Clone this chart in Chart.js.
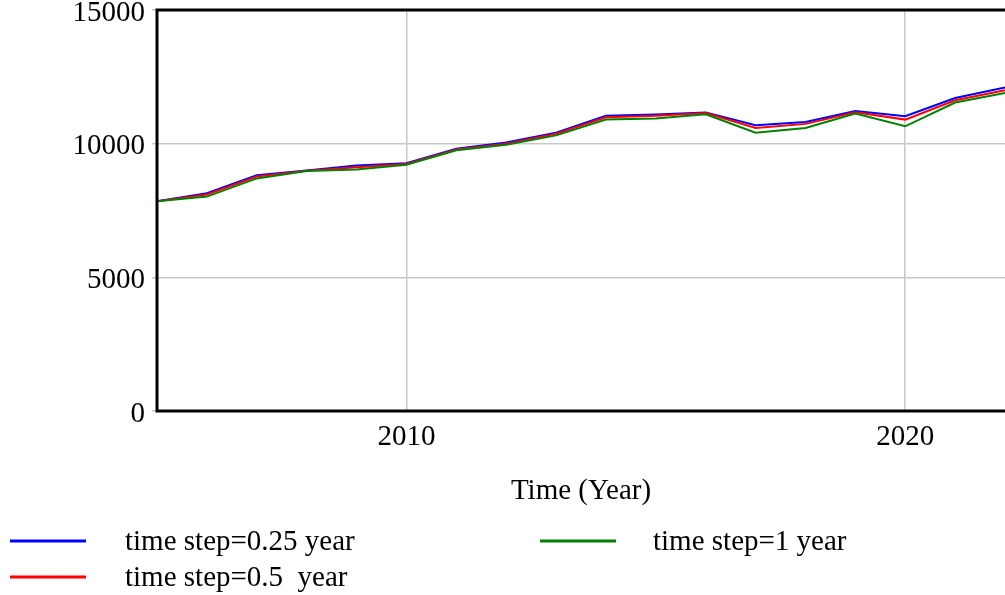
<!DOCTYPE html>
<html>
<head>
<meta charset="utf-8">
<script src="https://cdn.jsdelivr.net/npm/chart.js@4/dist/chart.umd.min.js"></script>
<style>
  html, body { margin: 0; padding: 0; background: #fff; overflow: hidden; }
  #wrap { width: 1005px; height: 595px; }
</style>
</head>
<body>
<div id="wrap"><canvas id="chart" width="1005" height="595"></canvas></div>
<script>
const years = [2005, 2006, 2007, 2008, 2009, 2010, 2011, 2012, 2013, 2014, 2015, 2016, 2017, 2018, 2019, 2020, 2021, 2022];
const step025 = [7850, 8150, 8820, 9000, 9180, 9270, 9810, 10040, 10410, 11040, 11090, 11170, 10690, 10810, 11225, 11025, 11710, 12100];
const step05  = [7850, 8100, 8770, 8990, 9120, 9240, 9780, 10000, 10370, 10990, 11040, 11150, 10590, 10740, 11175, 10900, 11625, 12000];
const step1   = [7850, 8020, 8700, 8975, 9030, 9210, 9750, 9960, 10310, 10900, 10940, 11100, 10410, 10590, 11125, 10650, 11540, 11900];
const labels = ["time step=0.25 year", "time step=0.5  year", "time step=1 year"];
const colors = ["#0000ff", "#ff0000", "#008000"];
const xTicks = [2010, 2020];
const yTicks = [0, 5000, 10000, 15000];

const FONT = "'Liberation Serif', 'Times New Roman', serif";
const FSIZE = 29;

function pts(vals) {
    return vals.map((v, i) => ({ x: years[i], y: v }));
}

// black frame on top, left and bottom of the plot
const framePlugin = {
    id: "frame",
    afterDatasetsDraw(chart) {
        const { ctx, chartArea: a } = chart;
        ctx.save();
        ctx.strokeStyle = "#000";
        ctx.lineWidth = 3;
        ctx.beginPath();
        ctx.moveTo(a.right + 5, a.top);
        ctx.lineTo(a.left, a.top);
        ctx.lineTo(a.left, a.bottom);
        ctx.lineTo(a.right + 5, a.bottom);
        ctx.stroke();
        ctx.restore();
    }
};

// legend in two columns below the axis title
const legendPlugin = {
    id: "legendBox",
    afterDraw(chart) {
        const ctx = chart.ctx;
        const spots = [
            { lx: 10, tx: 125, y: 542 },
            { lx: 10, tx: 125, y: 578 },
            { lx: 540, tx: 653, y: 542 }
        ];
        ctx.save();
        chart.data.datasets.forEach((ds, i) => {
            const s = spots[i];
            ctx.strokeStyle = ds.borderColor;
            ctx.lineWidth = 3;
            ctx.beginPath();
            ctx.moveTo(s.lx, s.y - 1);
            ctx.lineTo(s.lx + 76, s.y - 1);
            ctx.stroke();
            ctx.fillStyle = "#000";
            ctx.font = FSIZE + "px " + FONT;
            ctx.textBaseline = "middle";
            ctx.textAlign = "left";
            ctx.fillText(ds.label, s.tx, s.y);
        });
        ctx.restore();
    }
};

new Chart(document.getElementById("chart"), {
    type: "line",
    data: {
        datasets: [
            { label: labels[0], data: pts(step025), borderColor: colors[0], order: 2 },
            { label: labels[1], data: pts(step05), borderColor: colors[1], order: 1 },
            { label: labels[2], data: pts(step1), borderColor: colors[2], order: 0 }
        ]
    },
    options: {
        responsive: false,
        animation: false,
        events: [],
        layout: { padding: { left: 0, right: 0, top: 10, bottom: 86 } },
        elements: {
            line: { borderWidth: 2, tension: 0, fill: false },
            point: { radius: 0 }
        },
        plugins: {
            legend: { display: false },
            tooltip: { enabled: false }
        },
        scales: {
            x: {
                type: "linear",
                min: 2005,
                max: 2022,
                afterBuildTicks: s => { s.ticks = xTicks.map(v => ({ value: v })); },
                afterFit: s => { s.height = 98; s.paddingLeft = 0; s.paddingRight = 0; },
                grid: { color: "#c8c8c8", lineWidth: 1.5, drawTicks: false },
                border: { display: false },
                ticks: {
                    color: "#000",
                    font: { family: FONT, size: FSIZE },
                    padding: 9,
                    maxRotation: 0,
                    callback: v => String(v)
                },
                title: {
                    display: true,
                    text: "Time (Year)",
                    color: "#000",
                    font: { family: FONT, size: FSIZE },
                    padding: 0
                }
            },
            y: {
                min: 0,
                max: 15000,
                afterBuildTicks: s => { s.ticks = yTicks.map(v => ({ value: v })); },
                afterFit: s => { s.width = 157; s.paddingTop = 0; s.paddingBottom = 0; },
                grid: { color: "#c8c8c8", lineWidth: 1.5, tickLength: 5 },
                border: { display: false },
                ticks: {
                    color: "#000",
                    font: { family: FONT, size: FSIZE },
                    padding: 7,
                    labelOffset: 3,
                    callback: v => String(v)
                }
            }
        }
    },
    plugins: [framePlugin, legendPlugin]
});
</script>
</body>
</html>
